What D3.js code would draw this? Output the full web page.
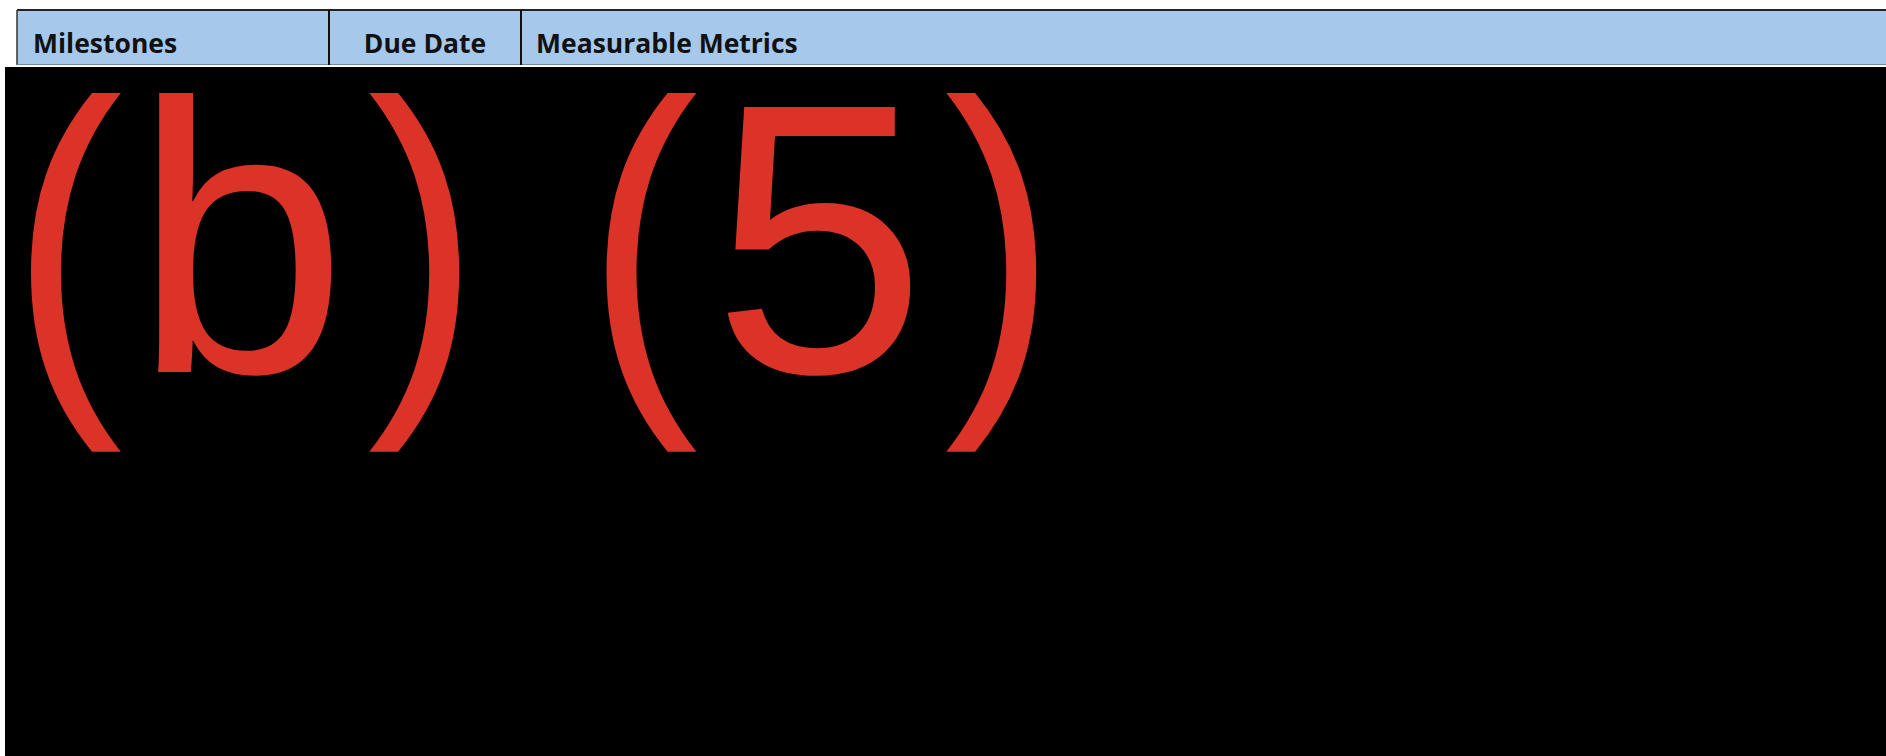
<!DOCTYPE html>
<html>
<head>
<meta charset="utf-8">
<script src="https://cdn.jsdelivr.net/npm/d3@7"></script>
<style>
    html, body { margin: 0; padding: 0; background: #fff; overflow: hidden; }
</style>
</head>
<body>
<div id="chart"></div>
<script>
// table header columns and the redaction label
var columns = ['Milestones', 'Due Date', 'Measurable Metrics'];
var columnAlign = ['start', 'middle', 'start'];
var redactionLabel = '(b) (5)';

var width = 1886, height = 756;

var svg = d3.select('#chart').append('svg')
    .attr('width', width)
    .attr('height', height)
    .style('display', 'block');

// column edges in pixels
var edges = [17, 329, 521, width + 2];
var headerTop = 10, headerBottom = 65;

var header = svg.append('g');

header.selectAll('rect.cell')
    .data(columns)
    .enter().append('rect')
    .attr('class', 'cell')
    .attr('x', function(d, i){ return edges[i]; })
    .attr('y', headerTop)
    .attr('width', function(d, i){ return edges[i + 1] - edges[i]; })
    .attr('height', headerBottom - headerTop)
    .attr('fill', '#a6c8ea');

// top border
header.append('line')
    .attr('x1', edges[0]).attr('x2', width)
    .attr('y1', headerTop).attr('y2', headerTop)
    .attr('stroke', '#222').attr('stroke-width', 2);

// left border
header.append('line')
    .attr('x1', edges[0]).attr('x2', edges[0])
    .attr('y1', headerTop).attr('y2', headerBottom)
    .attr('stroke', '#333').attr('stroke-width', 1.5);

// bottom border
header.append('line')
    .attr('x1', edges[0]).attr('x2', width)
    .attr('y1', headerBottom - 0.5).attr('y2', headerBottom - 0.5)
    .attr('stroke', '#6f8aa3').attr('stroke-width', 1);

// column dividers
header.selectAll('line.divider')
    .data(edges.slice(1, 3))
    .enter().append('line')
    .attr('class', 'divider')
    .attr('x1', function(d){ return d; }).attr('x2', function(d){ return d; })
    .attr('y1', headerTop).attr('y2', headerBottom)
    .attr('stroke', '#111').attr('stroke-width', 2);

header.selectAll('text.label')
    .data(columns)
    .enter().append('text')
    .attr('class', 'label')
    .attr('x', function(d, i){
        if(columnAlign[i] === 'middle'){ return (edges[i] + edges[i + 1]) / 2; }
        return edges[i] + (i === 0 ? 16 : 15);
    })
    .attr('y', 53)
    .attr('text-anchor', function(d, i){ return columnAlign[i]; })
    .style('font-family', '"Open Sans", sans-serif')
    .style('font-weight', 700)
    .style('font-size', '26.5px')
    .attr('fill', '#111')
    .text(function(d){ return d; });

// redaction box
svg.append('rect')
    .attr('x', 5)
    .attr('y', 67)
    .attr('width', width - 5)
    .attr('height', height - 67)
    .attr('fill', '#000');

// redaction label, glyph by glyph: kerning and a narrower paren to match the reference
var redactFont = '"Liberation Sans", Arial, sans-serif';
var redactSize = 385;
var redactKern = [5, -5, 20, 0, -17, -1.5, 18];
var parenScale = 0.88;

var glyphs = redactionLabel.split('');
var probe = svg.append('text')
    .style('font-family', redactFont)
    .style('font-size', redactSize + 'px');
var advances = glyphs.map(function(g){
    probe.text(g === ' ' ? '\u00a0' : g);
    return probe.node().getComputedTextLength();
});
probe.remove();

var glyphData = [];
var cursor = 5;
glyphs.forEach(function(g, i){
    cursor += redactKern[i];
    if(g !== ' '){ glyphData.push({g: g, x: cursor}); }
    cursor += advances[i];
});

svg.selectAll('text.redact')
    .data(glyphData)
    .enter().append('text')
    .attr('class', 'redact')
    .attr('transform', function(d){
        var sx = (d.g === '(' || d.g === ')') ? parenScale : 1;
        return 'translate(' + d.x + ',372) scale(' + sx + ',1)';
    })
    .style('font-family', redactFont)
    .style('font-size', redactSize + 'px')
    .attr('fill', '#db3327')
    .text(function(d){ return d.g; });
</script>
</body>
</html>
